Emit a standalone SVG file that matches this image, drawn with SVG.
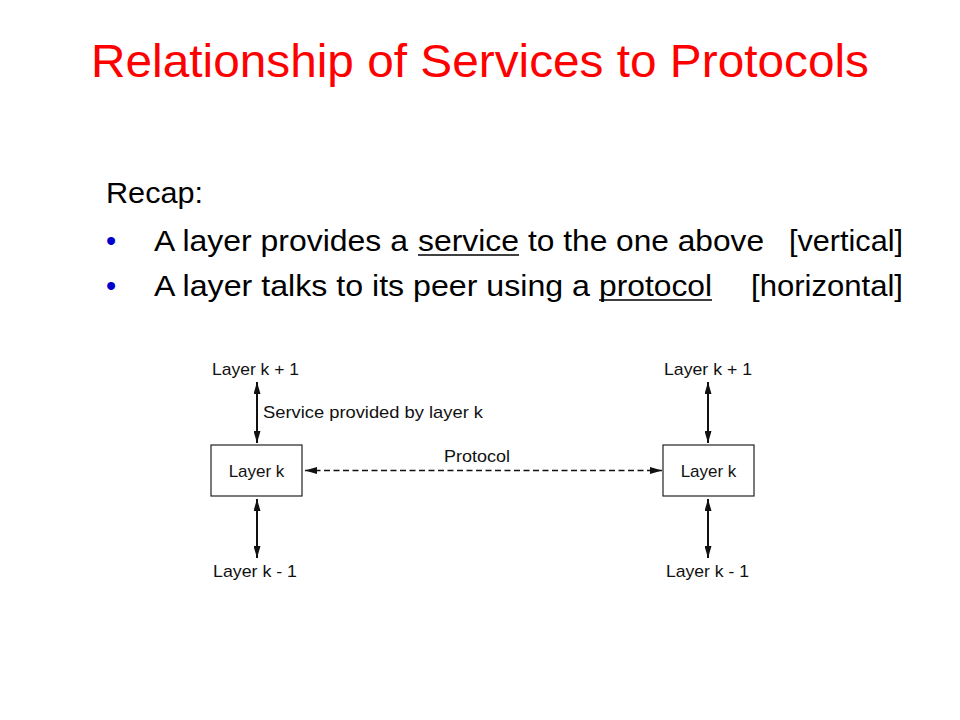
<svg xmlns="http://www.w3.org/2000/svg" width="960" height="720" viewBox="0 0 960 720">
  <style>
    .title { font-family: "Liberation Sans", Arial, sans-serif; font-size: 46px; fill: #FF0000; }
    .body { font-family: "Liberation Sans", Arial, sans-serif; font-size: 29px; fill: #000000; }
    .bullet { font-family: "Liberation Sans", Arial, sans-serif; font-size: 29px; fill: #0000CC; }
    .ul { stroke: #000000; stroke-width: 1.6; }
    .lbl { font-family: "Liberation Sans", Arial, sans-serif; font-size: 17px; fill: #111111; }
    .box { fill: #FFFFFF; stroke: #222222; stroke-width: 1.2; }
    .varrow { stroke: #111111; stroke-width: 2; fill: none; marker-start: url(#ah); marker-end: url(#ah); }
    .dash { stroke: #111111; stroke-width: 1.6; stroke-dasharray: 6 3.5; fill: none; }
  </style>
  <defs>
    <marker id="ah" viewBox="0 0 12 7" refX="12" refY="3.5" markerWidth="12" markerHeight="7" markerUnits="userSpaceOnUse" orient="auto-start-reverse">
      <path d="M0,0 L12,3.5 L0,7 z" fill="#111111"/>
    </marker>
  </defs>
  <rect width="960" height="720" fill="#FFFFFF"/>

  <text class="title" x="91" y="77" textLength="778" lengthAdjust="spacingAndGlyphs">Relationship of Services to Protocols</text>

  <g id="recap">
    <text class="body" x="106" y="203" textLength="97" lengthAdjust="spacingAndGlyphs">Recap:</text>
    <text class="bullet" x="106" y="251">•</text>
    <text class="body" y="251">
      <tspan x="154" textLength="254" lengthAdjust="spacingAndGlyphs">A layer provides a</tspan>
      <tspan x="418" textLength="101" lengthAdjust="spacingAndGlyphs">service</tspan>
      <tspan x="528" textLength="236" lengthAdjust="spacingAndGlyphs">to the one above</tspan>
      <tspan x="789" textLength="114" lengthAdjust="spacingAndGlyphs">[vertical]</tspan>
    </text>
    <line class="ul" x1="418" y1="255" x2="519" y2="255"/>
    <text class="bullet" x="106" y="296">•</text>
    <text class="body" y="296">
      <tspan x="154" textLength="436" lengthAdjust="spacingAndGlyphs">A layer talks to its peer using a</tspan>
      <tspan x="599" textLength="113" lengthAdjust="spacingAndGlyphs">protocol</tspan>
      <tspan x="751" textLength="152" lengthAdjust="spacingAndGlyphs">[horizontal]</tspan>
    </text>
    <line class="ul" x1="599" y1="300" x2="712" y2="300"/>
  </g>

  <g id="connectors">
    <line class="varrow" x1="257" y1="382" x2="257" y2="443"/>
    <line class="varrow" x1="257" y1="499" x2="257" y2="558"/>
    <line class="varrow" x1="708" y1="382" x2="708" y2="443"/>
    <line class="varrow" x1="708" y1="499" x2="708" y2="558"/>
    <line class="dash" x1="305" y1="470.5" x2="662" y2="470.5" marker-start="url(#ah)" marker-end="url(#ah)"/>
    <text class="lbl" x="263" y="418" textLength="220" lengthAdjust="spacingAndGlyphs">Service provided by layer k</text>
    <text class="lbl" x="444" y="462" textLength="66" lengthAdjust="spacingAndGlyphs">Protocol</text>
  </g>

  <g id="left-top">
    <text class="lbl" x="212" y="375" textLength="87" lengthAdjust="spacingAndGlyphs">Layer k + 1</text>
  </g>
  <g id="left-layer">
    <rect class="box" x="211" y="445" width="91" height="51"/>
    <text class="lbl" x="256.5" y="477" text-anchor="middle">Layer k</text>
  </g>
  <g id="left-bottom">
    <text class="lbl" x="213" y="577" textLength="84" lengthAdjust="spacingAndGlyphs">Layer k - 1</text>
  </g>

  <g id="right-top">
    <text class="lbl" x="664" y="375" textLength="88" lengthAdjust="spacingAndGlyphs">Layer k + 1</text>
  </g>
  <g id="right-layer">
    <rect class="box" x="663" y="445" width="91" height="51"/>
    <text class="lbl" x="708.5" y="477" text-anchor="middle">Layer k</text>
  </g>
  <g id="right-bottom">
    <text class="lbl" x="666" y="577" textLength="83" lengthAdjust="spacingAndGlyphs">Layer k - 1</text>
  </g>
</svg>
